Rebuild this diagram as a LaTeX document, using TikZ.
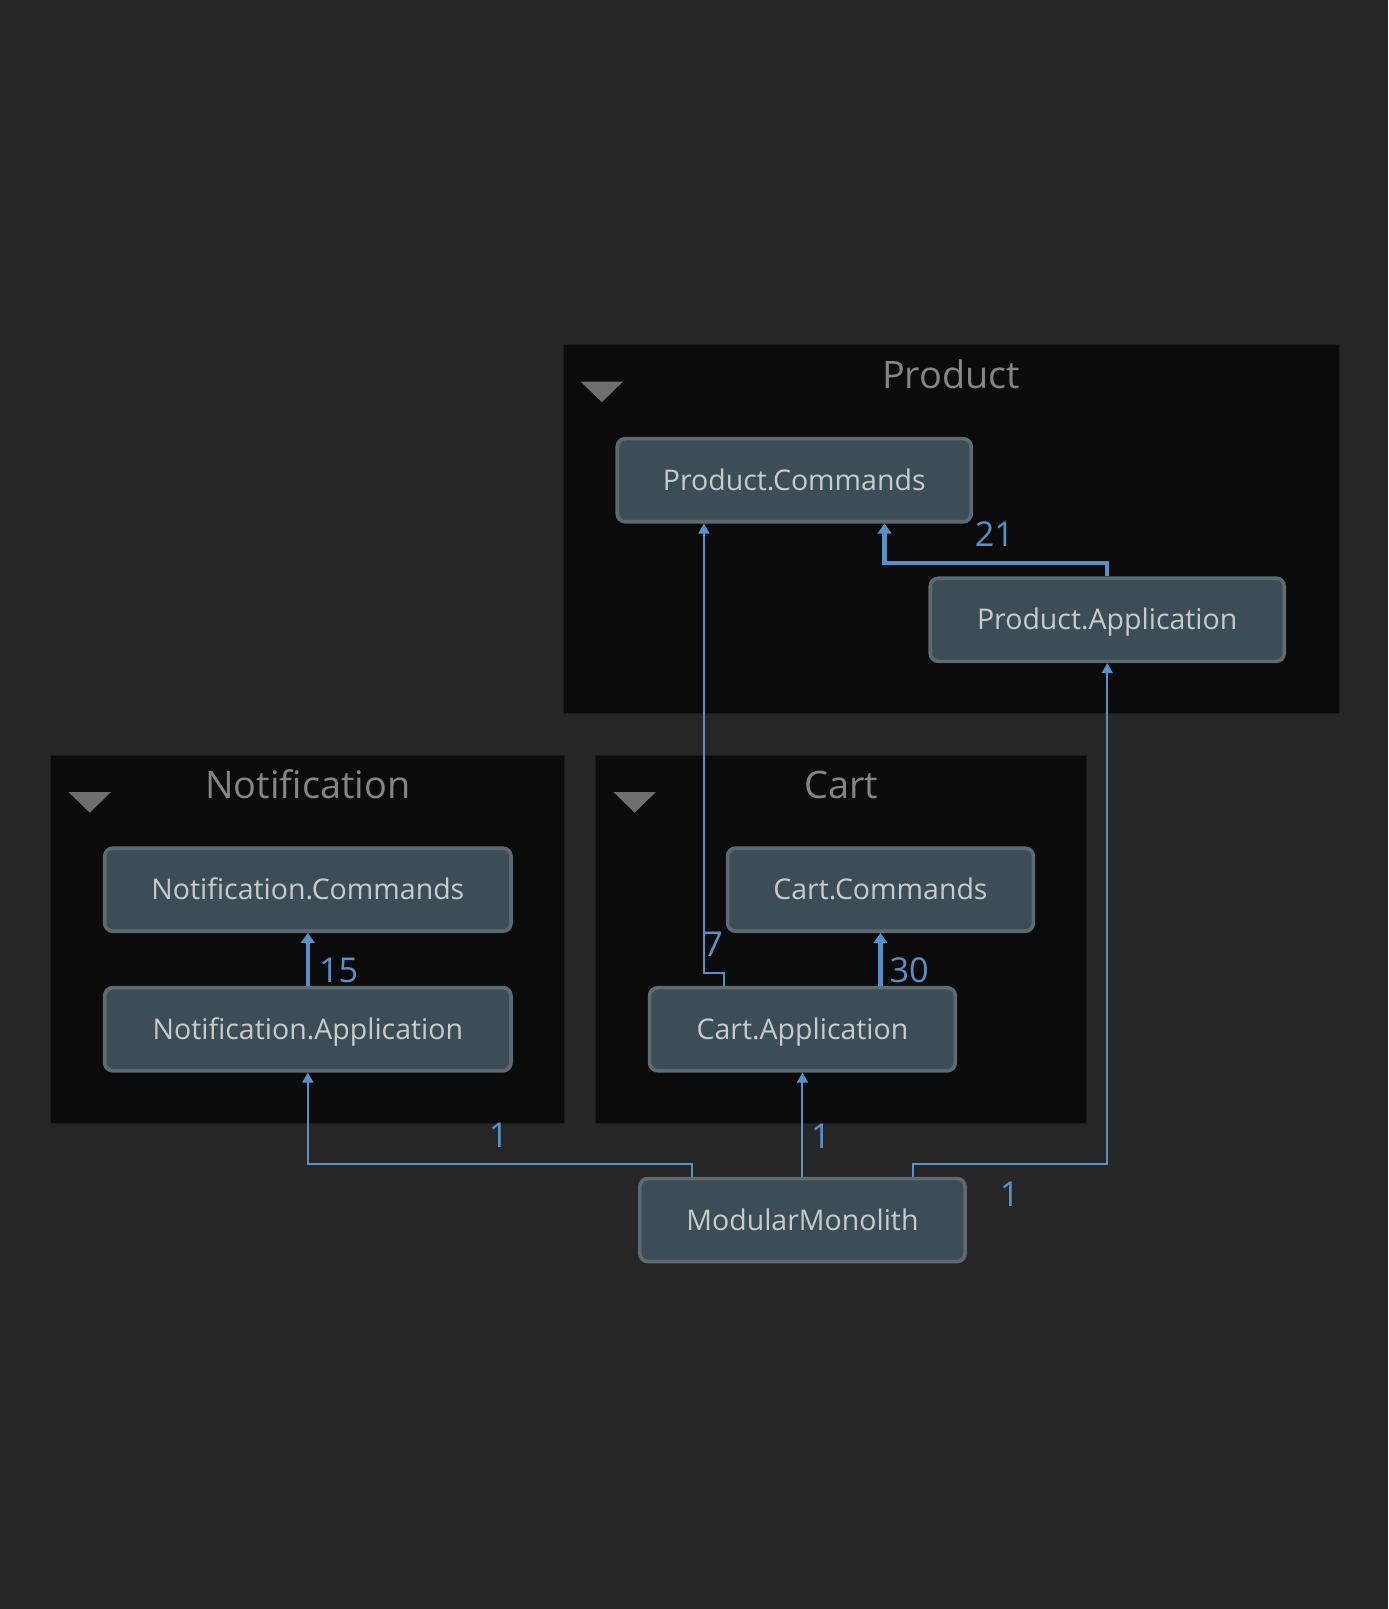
\documentclass[tikz,border=0pt]{standalone}
\usepackage{fontspec}
\setmainfont{Open Sans}
\usetikzlibrary{positioning}
\usetikzlibrary{calc, arrows.meta}
\definecolor{bgc}{HTML}{262626}
\definecolor{framefill}{HTML}{0B0B0B}
\definecolor{framedraw}{HTML}{1C1C1C}
\definecolor{boxfill}{HTML}{3C4D55}
\definecolor{boxdraw}{HTML}{5D6A71}
\definecolor{boxtext}{HTML}{C8CBCD}
\definecolor{titletext}{HTML}{858585}
\definecolor{tri}{HTML}{6E6E6E}
\definecolor{dep}{HTML}{5891C8}

\begin{document}
\begin{tikzpicture}[x=0.02cm,y=-0.02cm,
  frame/.style={fill=framefill,draw=framedraw,line width=0.6pt},
  title/.style={font=\fontsize{21}{25}\selectfont,text=titletext,text height=15pt,text depth=0pt},
  box/.style={rectangle,rounded corners=4.5pt,fill=boxfill,draw=boxdraw,line width=2pt,
    font=\fontsize{15.8}{19}\selectfont,text=boxtext,minimum height=1.62cm,
    text height=11.3pt,text depth=0pt},
  edge/.style={draw=dep,line width=1.1pt,-{Triangle[length=5.5pt,width=6pt]}},
  heavy/.style={edge,line width=2.4pt,-{Triangle[length=5.5pt,width=7.5pt]}},
  cnt/.style={font=\fontsize{19}{22}\selectfont,text=dep,text height=13.5pt,text depth=0pt}]
\fill[bgc] (0,0) rectangle (1353,1568);
\useasboundingbox (0,0) rectangle (1353,1568);

% groups
\draw[frame] (549,336) rectangle (1305,695);
\draw[frame] (49,736) rectangle (550,1095);
\draw[frame] (580,736) rectangle (1059,1095);
\node[title] (tprod) at (927,365) {Product};
\node[title] (tnote) at (300,765) {Notification};
\node[title] (tcart) at (820,765) {Cart};
\fill[tri] (566,372) -- (607,372) -- (586.5,392) -- cycle;
\fill[tri] (67,772) -- (108,772) -- (87.5,792) -- cycle;
\fill[tri] (598,772) -- (639,772) -- (618.5,792) -- cycle;

% projects
\node[box,minimum width=6.9cm] (pc) at (774,468) {Product.Commands};
\node[box,minimum width=6.9cm] (pa) at (1079,604) {Product.Application};
\node[box,minimum width=7.92cm] (nc) at (300,867) {Notification.Commands};
\node[box,minimum width=7.92cm] (na) at (300,1003) {Notification.Application};
\node[box,minimum width=5.96cm] (cc) at (858,867) {Cart.Commands};
\node[box,minimum width=5.96cm] (ca) at (782,1003) {Cart.Application};
\node[box,minimum width=6.34cm] (mm) at (782,1189) {ModularMonolith};

% references
\draw[heavy] (pa.north) -- ++(0,-13) -| ($(pc.south)+(88,0)$);
\draw[heavy] (na.north) -- (nc.south);
\draw[heavy] ($(ca.north)+(76,0)$) -- (cc.south);
\draw[edge] ($(ca.north)+(-76,0)$) -- ++(0,-12.5) -| ($(pc.south)+(-88,0)$);
\draw[edge] ($(mm.north)+(-108,0)$) -- ++(0,-12.5) -| (na.south);
\draw[edge] (mm.north) -- (ca.south);
\draw[edge] ($(mm.north)+(108,0)$) -- ++(0,-12.5) -| (pa.south);

\node[cnt] (l21) at (969,521) {21};
\node[cnt] (l15) at (330,946) {15};
\node[cnt] (l30) at (886,946) {30};
\node[cnt] (l7) at (695,920) {7};
\node[cnt] (l1a) at (486,1106) {1};
\node[cnt] (l1b) at (800,1107) {1};
\node[cnt] (l1c) at (984,1164) {1};
\end{tikzpicture}
\end{document}
